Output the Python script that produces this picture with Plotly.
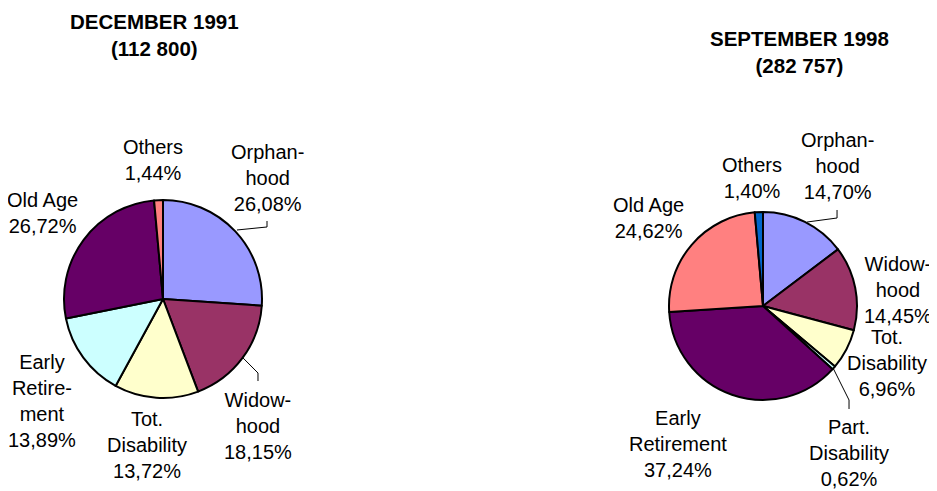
import plotly.graph_objects as go

# browser puts the plot 8px in from the top-left corner of the page
OFF = 8
W, H = 937 - OFF, 491 - OFF

# December 1991
cats_91 = ['Orphanhood', 'Widowhood', 'Tot. Disability', 'Early Retirement', 'Old Age', 'Others']
names_91 = ['Orphan-<br>hood', 'Widow-<br>hood', 'Tot.<br>Disability', 'Early<br>Retire-<br>ment', 'Old Age', 'Others']
vals_91 = [26.08, 18.15, 13.72, 13.89, 26.72, 1.44]
colors_91 = ['#9999FF', '#993366', '#FFFFCC', '#CCFFFF', '#660066', '#FF8080']

# September 1998
cats_98 = ['Orphanhood', 'Widowhood', 'Tot. Disability', 'Part. Disability', 'Early Retirement', 'Old Age', 'Others']
names_98 = ['Orphan-<br>hood', 'Widow-<br>hood', 'Tot.<br>Disability', 'Part.<br>Disability', 'Early<br>Retirement', 'Old Age', 'Others']
vals_98 = [14.70, 14.45, 6.96, 0.62, 37.24, 24.62, 1.40]
colors_98 = ['#9999FF', '#993366', '#FFFFCC', '#CCFFFF', '#660066', '#FF8080', '#0066CC']

FONT = 'Liberation Sans, Arial, sans-serif'


def px(x, y):
    '''page pixel position -> paper coords'''
    return (x - OFF) / W, 1 - (y - OFF) / H


def pct(v):
    return f"{v:.2f}".replace('.', ',') + '%'


def dom(x0, x1, y0, y1):
    a, b = px(x0, y1)
    c, d = px(x1, y0)
    return dict(x=[a, c], y=[b, d])


fig = go.Figure()

fig.add_trace(go.Pie(
    labels=cats_91, values=vals_91, sort=False, direction='clockwise', rotation=0,
    marker=dict(colors=colors_91, line=dict(color='black', width=2)),
    textinfo='none', showlegend=False,
    domain=dom(64, 262, 200, 398),
))
fig.add_trace(go.Pie(
    labels=cats_98, values=vals_98, sort=False, direction='clockwise', rotation=0,
    marker=dict(colors=colors_98, line=dict(color='black', width=2)),
    textinfo='none', showlegend=False,
    domain=dom(669, 857, 212, 400),
))

# label centres (page pixels)
pos_91 = [(267, 178), (258, 426), (147, 445), (42, 401), (42, 213), (153, 160)]
pos_98 = [(837, 166), (898, 290), (887, 363), (849, 453), (678, 444), (648, 218), (752, 178)]

annotations = []
for names, vals, pos in [(names_91, vals_91, pos_91), (names_98, vals_98, pos_98)]:
    for n, v, (x, y) in zip(names, vals, pos):
        xx, yy = px(x, y)
        annotations.append(dict(
            text=n + '<br>' + pct(v), x=xx, y=yy, xref='paper', yref='paper',
            xanchor='center', yanchor='middle', showarrow=False,
            font=dict(size=20, color='black', family=FONT),
        ))

# titles (top edge of text box, page pixels)
titles = [('<b>DECEMBER 1991</b><br><b>(112 800)</b>', 154, 8),
          ('<b>SEPTEMBER 1998</b><br><b>(282 757)</b>', 799, 25)]
for t, x, y in titles:
    xx, yy = px(x, y)
    annotations.append(dict(
        text=t, x=xx, y=yy, xref='paper', yref='paper',
        xanchor='center', yanchor='top', showarrow=False,
        font=dict(size=20.5, color='black', family=FONT),
    ))

# leader lines
leaders = [
    [(237, 230), (267, 227), (267, 221)],
    [(243, 358), (258, 373), (258, 381)],
    [(807, 222), (837, 218), (837, 210)],
    [(833, 368), (849, 400), (849, 409)],
]
shapes = []
for pts in leaders:
    path = ''
    for i, (x, y) in enumerate(pts):
        xx, yy = px(x, y)
        path += ('M' if i == 0 else ' L') + f' {xx:.4f},{yy:.4f}'
    shapes.append(dict(type='path', path=path, xref='paper', yref='paper',
                       line=dict(color='black', width=1)))

fig.update_layout(
    width=W, height=H,
    margin=dict(l=0, r=0, t=0, b=0),
    paper_bgcolor='white', plot_bgcolor='white',
    font_family=FONT,
    annotations=annotations,
    shapes=shapes,
)

fig.write_html("out.html")
